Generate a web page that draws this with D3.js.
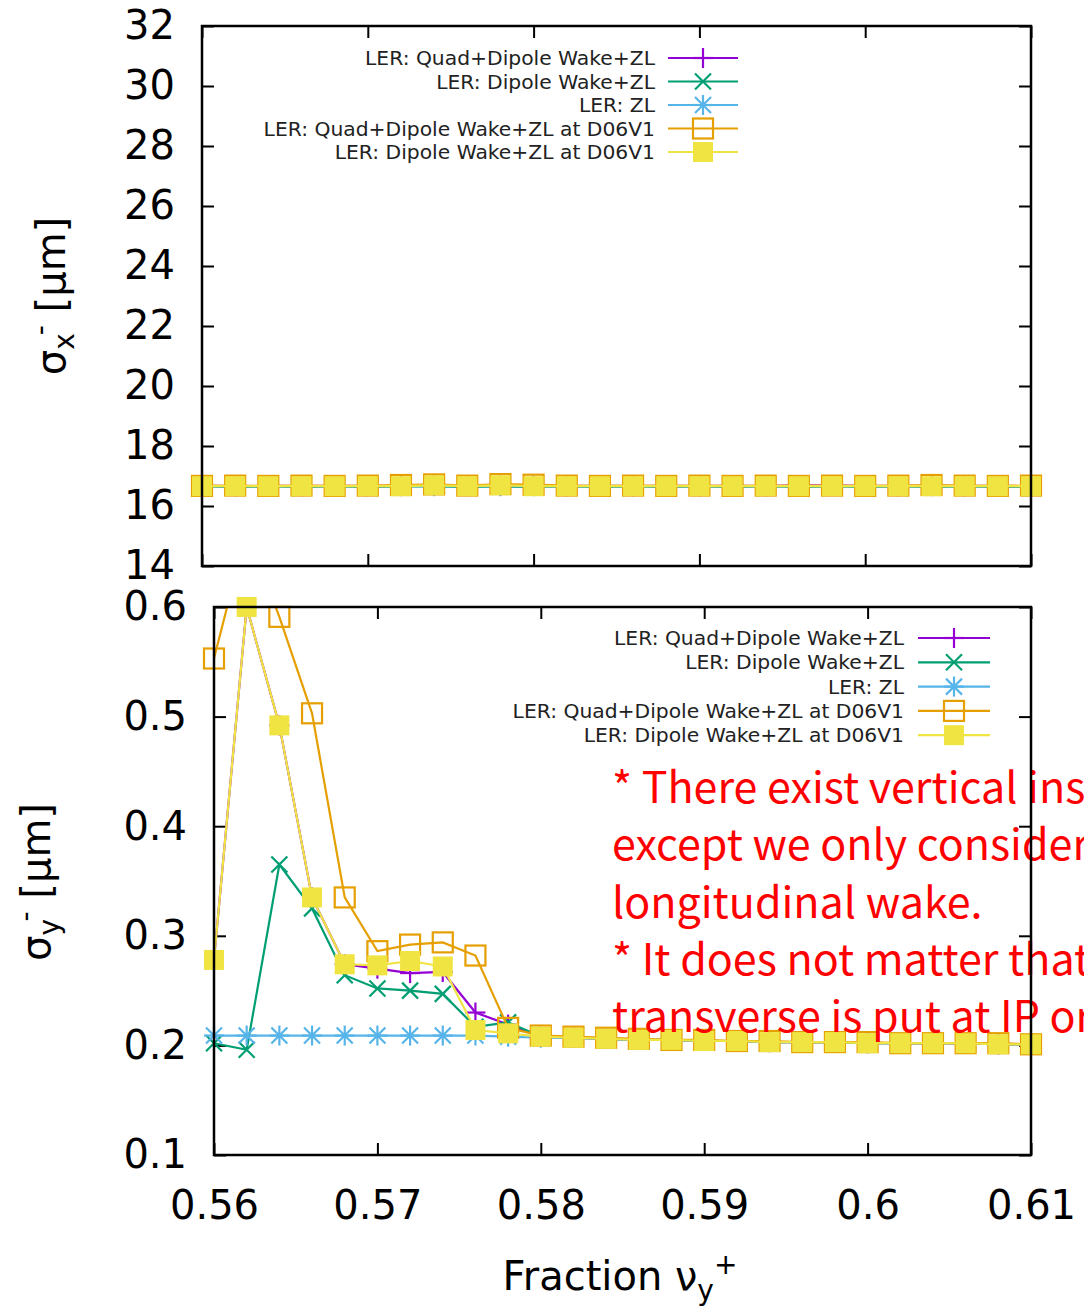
<!DOCTYPE html>
<html>
<head>
<meta charset="utf-8">
<script src="https://cdn.jsdelivr.net/npm/d3@7"></script>
<style>
body { margin: 0; background: #fff; }
svg { display: block; }
</style>
</head>
<body>
<svg id="chart" width="1084" height="1306"></svg>
<script>
// tune fraction nu_y+ (shared by both panels)
const nu = [0.560, 0.562, 0.564, 0.566, 0.568, 0.570, 0.572, 0.574, 0.576, 0.578, 0.580, 0.582, 0.584,
            0.586, 0.588, 0.590, 0.592, 0.594, 0.596, 0.598, 0.600, 0.602, 0.604, 0.606, 0.608, 0.610];

const seriesNames = ["LER: Quad+Dipole Wake+ZL", "LER: Dipole Wake+ZL", "LER: ZL",
                     "LER: Quad+Dipole Wake+ZL at D06V1", "LER: Dipole Wake+ZL at D06V1"];

// sigma_x- [um]
const sxQuadDip   = [16.67,16.66,16.67,16.66,16.67,16.66,16.67,16.68,16.67,16.68,16.67,16.66,16.67,16.66,16.67,16.66,16.67,16.66,16.69,16.68,16.67,16.66,16.67,16.66,16.67,16.66];
const sxDip       = [16.65,16.64,16.65,16.64,16.65,16.64,16.65,16.65,16.64,16.65,16.64,16.65,16.64,16.65,16.64,16.65,16.64,16.65,16.64,16.65,16.64,16.65,16.64,16.65,16.64,16.65];
const sxZL        = [16.66,16.66,16.66,16.66,16.66,16.66,16.66,16.66,16.66,16.66,16.66,16.66,16.66,16.66,16.66,16.66,16.66,16.66,16.66,16.66,16.66,16.66,16.66,16.66,16.66,16.66];
const sxQuadDipD6 = [16.67,16.68,16.67,16.68,16.67,16.68,16.70,16.72,16.68,16.73,16.71,16.68,16.67,16.68,16.67,16.68,16.67,16.68,16.67,16.68,16.67,16.68,16.70,16.68,16.67,16.68];
const sxDipD6     = [16.66,16.66,16.66,16.66,16.66,16.66,16.66,16.69,16.66,16.69,16.66,16.66,16.66,16.66,16.66,16.66,16.66,16.66,16.66,16.66,16.66,16.66,16.66,16.66,16.66,16.66];

// sigma_y- [um]
const syQuadDip   = [0.278,0.600,0.492,0.335,0.274,0.270,0.266,0.267,0.230,0.219,0.208,0.207,0.206,0.205,0.205,0.204,0.204,0.203,0.203,0.203,0.202,0.202,0.202,0.202,0.201,0.201];
const syDip       = [0.202,0.196,0.365,0.325,0.264,0.252,0.250,0.247,0.217,0.221,0.208,0.207,0.206,0.205,0.205,0.204,0.204,0.203,0.203,0.203,0.202,0.202,0.202,0.202,0.201,0.201];
const syZL        = [0.209,0.209,0.209,0.209,0.209,0.209,0.209,0.209,0.209,0.208,0.207,0.207,0.206,0.205,0.205,0.204,0.204,0.203,0.203,0.203,0.202,0.202,0.202,0.202,0.201,0.201];
const syQuadDipD6 = [0.553,0.670,0.591,0.503,0.335,0.286,0.292,0.294,0.282,0.216,0.209,0.208,0.207,0.206,0.205,0.205,0.204,0.204,0.203,0.203,0.203,0.202,0.202,0.202,0.202,0.201];
const syDipD6     = [0.278,0.600,0.492,0.335,0.274,0.273,0.277,0.272,0.214,0.211,0.208,0.207,0.206,0.205,0.205,0.204,0.204,0.203,0.203,0.203,0.202,0.202,0.202,0.202,0.201,0.201];

const xTicks = [0.56, 0.57, 0.58, 0.59, 0.6, 0.61];
const sxTicks = [14, 16, 18, 20, 22, 24, 26, 28, 30, 32];
const syTicks = [0.1, 0.2, 0.3, 0.4, 0.5, 0.6];

const note = ["* There exist vertical instability",
              "except we only consider",
              "longitudinal wake.",
              "* It does not matter that",
              "transverse is put at IP or"];

const colors = ["#9400d3", "#009e73", "#56b4e9", "#e69f00", "#f0e442"];
const markers = ["plus", "cross", "star", "box", "fbox"];

const svg = d3.select("#chart");
const FONT = "DejaVu Sans";

function drawMarker(g, type, x, y, color) {
	const s = 10;
	const line = (x1, y1, x2, y2) => g.append("line")
		.attr("x1", x1).attr("y1", y1).attr("x2", x2).attr("y2", y2)
		.attr("stroke", color).attr("stroke-width", 2.2);
	if (type === "plus" || type === "star") {
		line(x - s, y, x + s, y);
		line(x, y - s, x, y + s);
	}
	if (type === "cross" || type === "star") {
		line(x - 8, y - 8, x + 8, y + 8);
		line(x - 8, y + 8, x + 8, y - 8);
	}
	if (type === "box") {
		g.append("rect").attr("x", x - s).attr("y", y - s).attr("width", 2 * s).attr("height", 2 * s)
			.attr("fill", "none").attr("stroke", color).attr("stroke-width", 2.2);
	}
	if (type === "fbox") {
		g.append("rect").attr("x", x - s).attr("y", y - s).attr("width", 2 * s).attr("height", 2 * s)
			.attr("fill", color);
	}
}

function drawPanel(p) {
	const xScale = d3.scaleLinear().domain([0.56, 0.61]).range([p.left, p.right]);
	const yScale = d3.scaleLinear().domain(p.yDomain).range([p.bottom, p.top]);

	const clipId = "clip-" + p.id;
	svg.append("clipPath").attr("id", clipId).append("rect")
		.attr("x", p.left).attr("y", p.top)
		.attr("width", p.right - p.left).attr("height", p.bottom - p.top);

	// axes with gnuplot-style inward ticks on all four sides
	const yLeft = svg.append("g").attr("transform", `translate(${p.left},0)`)
		.call(d3.axisLeft(yScale).tickValues(p.yTicks).tickSize(-12).tickPadding(27).tickFormat(d => d));
	const yRight = svg.append("g").attr("transform", `translate(${p.right},0)`)
		.call(d3.axisRight(yScale).tickValues(p.yTicks).tickSize(-12).tickFormat(""));
	const xBottom = svg.append("g").attr("transform", `translate(0,${p.bottom})`)
		.call(d3.axisBottom(xScale).tickValues(xTicks).tickSize(-12).tickPadding(36)
			.tickFormat(p.xLabels ? (d => d) : ""));
	const xTop = svg.append("g").attr("transform", `translate(0,${p.top})`)
		.call(d3.axisTop(xScale).tickValues(xTicks).tickSize(-12).tickFormat(""));
	[yLeft, yRight, xBottom, xTop].forEach(a => {
		a.select(".domain").remove();
		a.selectAll("line").attr("stroke", "#000").attr("stroke-width", 2);
		a.selectAll("text").attr("font-family", FONT).attr("font-size", 40).attr("fill", "#000");
	});

	const line = d3.line().x((d, i) => xScale(nu[i])).y(d => yScale(d));
	const [y0, y1] = p.yDomain;

	p.series.forEach((vals, k) => {
		const g = svg.append("g");
		g.append("path").attr("d", line(vals)).attr("fill", "none")
			.attr("stroke", colors[k]).attr("stroke-width", 2.2)
			.attr("clip-path", `url(#${clipId})`);
		vals.forEach((v, i) => {
			if (v >= y0 && v <= y1 + 1e-9) drawMarker(g, markers[k], xScale(nu[i]), yScale(v), colors[k]);
		});
	});

	// legend
	const lg = svg.append("g");
	seriesNames.forEach((name, k) => {
		const ry = p.legend.y + k * p.legend.dy;
		lg.append("text").attr("x", p.legend.textRight).attr("y", ry).attr("dy", "0.35em")
			.attr("text-anchor", "end").attr("font-family", FONT).attr("font-size", 20.3)
			.attr("fill", "#222").text(name);
		lg.append("line").attr("x1", p.legend.x1).attr("x2", p.legend.x2).attr("y1", ry).attr("y2", ry)
			.attr("stroke", colors[k]).attr("stroke-width", 2.2);
		drawMarker(lg, markers[k], (p.legend.x1 + p.legend.x2) / 2, ry, colors[k]);
	});

	if (p.note) {
		const t = svg.append("g");
		note.forEach((s, i) => {
			t.append("text").attr("x", 612).attr("y", 803 + i * 57.3)
				.attr("font-family", "Noto Sans CJK SC").attr("font-size", 43)
				.attr("fill", "#ff0000").text(s);
		});
	}

	// frame
	svg.append("rect").attr("x", p.left).attr("y", p.top)
		.attr("width", p.right - p.left).attr("height", p.bottom - p.top)
		.attr("fill", "none").attr("stroke", "#000").attr("stroke-width", 2.5);

	// y axis title: sigma with sub/superscript
	const yt = svg.append("text").attr("transform", `translate(${p.titleX},${p.titleY}) rotate(-90)`)
		.attr("text-anchor", "middle").attr("font-family", FONT).attr("font-size", 40).attr("fill", "#000");
	yt.append("tspan").text("σ");
	yt.append("tspan").attr("font-size", 28).attr("dy", 9).text(p.sub);
	yt.append("tspan").attr("font-size", 28).attr("dy", -24).attr("dx", -2).text("-");
	yt.append("tspan").attr("dy", 15).text(" [μm]");
}

drawPanel({
	id: "top", left: 202, right: 1031, top: 26, bottom: 566,
	yDomain: [14, 32], yTicks: sxTicks, xLabels: false,
	series: [sxQuadDip, sxDip, sxZL, sxQuadDipD6, sxDipD6],
	legend: { y: 58, dy: 23.5, textRight: 655, x1: 668, x2: 738 },
	titleX: 65, titleY: 296, sub: "x"
});

drawPanel({
	id: "bot", left: 214, right: 1031, top: 607, bottom: 1155,
	yDomain: [0.1, 0.6], yTicks: syTicks, xLabels: true,
	series: [syQuadDip, syDip, syZL, syQuadDipD6, syDipD6],
	legend: { y: 638, dy: 24.3, textRight: 904, x1: 918, x2: 990 },
	titleX: 50, titleY: 882, sub: "y", note: true
});

// x axis title
const xt = svg.append("text").attr("x", 620).attr("y", 1290).attr("text-anchor", "middle")
	.attr("font-family", FONT).attr("font-size", 40).attr("fill", "#000");
xt.append("tspan").text("Fraction ν");
xt.append("tspan").attr("font-size", 28).attr("dy", 10).text("y");
xt.append("tspan").attr("font-size", 28).attr("dy", -26).text("+");
</script>
</body>
</html>
